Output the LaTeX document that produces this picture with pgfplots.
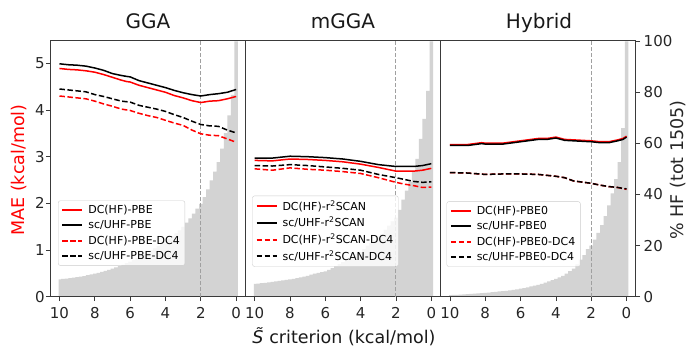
\documentclass[border=0pt]{standalone}
\usepackage{fontspec}
\setmainfont{DejaVu Sans}
\usepackage{pgfplots}
\pgfplotsset{compat=1.18}
\definecolor{histgray}{HTML}{D3D3D3}
\definecolor{spine}{HTML}{3A3A3A}
\definecolor{vline}{HTML}{A0A0A0}

\pgfplotsset{
  common/.style={
    scale only axis, width=195pt, height=256.7pt, anchor=south west,
    xmin=-0.52, xmax=10.52, x dir=reverse,
    axis line style={spine, line width=0.7pt},
    tick style={spine, line width=0.7pt},
    tick align=outside, major tick length=4.5pt,
    xtick={0,2,4,6,8,10},
    ticklabel style={font=\fontsize{15}{18}\selectfont, text=black!85},
    xticklabel style={yshift=-3pt},
    /pgf/number format/assume math mode=true,
  },
  histax/.style={common, ymin=0, ymax=100.5, xtick=\empty},
  mainax/.style={common, ymin=0, ymax=5.5,
    ytick=\empty,
    xtick pos=bottom, ytick pos=left,
    legend style={anchor=south west,
      font=\fontsize{11}{13}\selectfont,
      draw=black!20, rounded corners=2pt, fill=white, fill opacity=0.8, text opacity=1,
      inner xsep=3pt, inner ysep=2.5pt, row sep=1.6pt, column sep=3pt},
    legend cell align=left,
    legend image code/.code={\draw[##1, line width=2pt] (0pt,0pt) -- (20pt,0pt);},
  },
  hbar/.style={fill=histgray, draw=none, const plot mark left},
  rs/.style={red, line width=1.5pt},
  ks/.style={black, line width=1.5pt},
  rd/.style={red, line width=1.5pt, dash pattern=on 5.5pt off 2.5pt},
  kd/.style={black, line width=1.5pt, dash pattern=on 5.5pt off 2.5pt},
}

\begin{document}
\begin{tikzpicture}
\useasboundingbox (0pt,0pt) rectangle (690pt,346pt);

% ---------------- Panel 1: GGA ----------------
\begin{axis}[histax, at={(50.3pt,49.3pt)}, hide axis]
\addplot[hbar] coordinates {(-0.1,100) (0.1,79) (0.3,71) (0.5,64) (0.7,58) (0.9,52.7) (1.1,49) (1.3,45.5) (1.5,42) (1.7,39) (1.9,36.3) (2.1,34.5) (2.3,32.5) (2.5,30.7) (2.7,29) (2.9,27.3) (3.1,26) (3.3,24.8) (3.5,23.7) (3.7,22.7) (3.9,21.8) (4.1,20.8) (4.3,19.8) (4.5,18.9) (4.7,18.1) (4.9,17.3) (5.1,16.6) (5.3,15.9) (5.5,15.1) (5.7,14.4) (5.9,13.7) (6.1,13.1) (6.3,12.5) (6.5,12.0) (6.7,11.5) (6.9,11.0) (7.1,10.5) (7.3,10.1) (7.5,9.7) (7.7,9.3) (7.9,9.0) (8.1,8.7) (8.3,8.4) (8.5,8.1) (8.7,7.9) (8.9,7.7) (9.1,7.5) (9.3,7.3) (9.5,7.1) (9.7,7.0) (9.9,6.8) (10.05,6.8)} \closedcycle;
\end{axis}
\begin{axis}[mainax, at={(50.3pt,49.3pt)}, ytick={0,1,2,3,4,5},
  yticklabel style={xshift=2.5pt},
  legend style={at={(0.04,0.121)}}]
\draw[vline, line width=1pt, dash pattern=on 4pt off 2pt] (axis cs:2,0) -- (axis cs:2,5.5);
\addplot[rs] coordinates {(10,4.89) (9.5,4.87) (9,4.86) (8.5,4.84) (8,4.81) (7.5,4.76) (7,4.70) (6.5,4.64) (6.2,4.61) (6,4.60) (5.5,4.53) (5,4.48) (4.5,4.43) (4,4.38) (3.5,4.31) (3,4.26) (2.5,4.20) (2,4.16) (1.5,4.19) (1,4.20) (0.5,4.24) (0,4.29)};
\addlegendentry{DC(HF)-PBE}
\addplot[ks] coordinates {(10,4.99) (9.5,4.97) (9,4.96) (8.5,4.94) (8,4.90) (7.5,4.85) (7,4.78) (6.5,4.74) (6.2,4.72) (6,4.71) (5.5,4.63) (5,4.58) (4.5,4.53) (4,4.48) (3.5,4.42) (3,4.37) (2.5,4.33) (2,4.30) (1.5,4.33) (1,4.35) (0.5,4.38) (0,4.44)};
\addlegendentry{sc/UHF-PBE}
\addplot[rd] coordinates {(10,4.30) (9.5,4.28) (9,4.26) (8.5,4.24) (8,4.19) (7.5,4.13) (7,4.08) (6.5,4.02) (6,3.99) (5.5,3.93) (5,3.88) (4.5,3.84) (4,3.78) (3.5,3.72) (3,3.67) (2.5,3.57) (2,3.49) (1.5,3.46) (1,3.45) (0.5,3.38) (0,3.31)};
\addlegendentry{DC(HF)-PBE-DC4}
\addplot[kd] coordinates {(10,4.45) (9.5,4.43) (9,4.41) (8.5,4.39) (8,4.33) (7.5,4.29) (7,4.24) (6.5,4.19) (6,4.17) (5.5,4.10) (5,4.06) (4.5,4.02) (4,3.97) (3.5,3.90) (3,3.84) (2.5,3.76) (2,3.69) (1.5,3.66) (1,3.65) (0.5,3.57) (0,3.51)};
\addlegendentry{sc/UHF-PBE-DC4}
\end{axis}

% ---------------- Panel 2: mGGA ----------------
\begin{axis}[histax, at={(245.5pt,49.3pt)}, hide axis]
\addplot[hbar] coordinates {(-0.1,100) (0.1,80.6) (0.3,69.6) (0.5,61.8) (0.7,54) (0.9,48.8) (1.1,45) (1.3,41.5) (1.5,38) (1.7,34) (1.9,31) (2.1,29.5) (2.3,27.8) (2.5,26.2) (2.7,24.5) (2.9,23) (3.1,22) (3.3,21) (3.5,20) (3.7,18.6) (3.9,17.5) (4.1,16.8) (4.3,16.0) (4.5,15.2) (4.7,14.3) (4.9,13.5) (5.1,12.8) (5.3,12.0) (5.5,11.2) (5.7,10.5) (5.9,9.9) (6.1,9.6) (6.3,9.3) (6.5,9.0) (6.7,8.6) (6.9,8.2) (7.1,7.9) (7.3,7.6) (7.5,7.3) (7.7,7.0) (7.9,6.8) (8.1,6.6) (8.3,6.4) (8.5,6.2) (8.7,6.0) (8.9,5.8) (9.1,5.6) (9.3,5.4) (9.5,5.3) (9.7,5.1) (9.9,5.0) (10.05,5.0)} \closedcycle;
\end{axis}
\begin{axis}[mainax, at={(245.5pt,49.3pt)},
  legend style={at={(0.035,0.117)}}]
\draw[vline, line width=1pt, dash pattern=on 4pt off 2pt] (axis cs:2,0) -- (axis cs:2,5.5);
\addplot[rs] coordinates {(10,2.92) (9,2.91) (8,2.95) (7,2.94) (6,2.92) (5,2.89) (4,2.84) (3,2.77) (2,2.69) (1,2.69) (0.5,2.71) (0,2.75)};
\addlegendentry{DC(HF)-r\textsuperscript{2}SCAN}
\addplot[ks] coordinates {(10,2.97) (9,2.97) (8,3.01) (7,3.00) (6,2.98) (5,2.95) (4,2.90) (3,2.83) (2,2.79) (1,2.79) (0.5,2.81) (0,2.85)};
\addlegendentry{sc/UHF-r\textsuperscript{2}SCAN}
\addplot[rd] coordinates {(10,2.74) (9,2.71) (8,2.76) (7,2.73) (6,2.71) (5,2.68) (4,2.64) (3,2.55) (2,2.45) (1.5,2.41) (1,2.38) (0.5,2.34) (0,2.35)};
\addlegendentry{DC(HF)-r\textsuperscript{2}SCAN-DC4}
\addplot[kd] coordinates {(10,2.81) (9,2.80) (8,2.83) (7,2.81) (6,2.78) (5,2.75) (4,2.71) (3,2.62) (2,2.55) (1.5,2.51) (1,2.47) (0.5,2.45) (0,2.46)};
\addlegendentry{sc/UHF-r\textsuperscript{2}SCAN-DC4}
\end{axis}

% ---------------- Panel 3: Hybrid ----------------
\begin{axis}[histax, at={(440.7pt,49.3pt)}, axis x line=none, axis y line*=right,
  ytick={0,20,40,60,80,100}]
\addplot[hbar] coordinates {(-0.1,100) (0.1,66) (0.3,52.7) (0.5,46) (0.7,40.5) (0.9,35.8) (1.1,31.5) (1.3,28) (1.5,25) (1.7,22.3) (1.9,20) (2.1,18.6) (2.3,16.3) (2.5,14.5) (2.7,12.7) (2.9,11) (3.1,10.0) (3.3,9.0) (3.5,8.2) (3.7,7.6) (3.9,7.0) (4.1,6.5) (4.3,6.0) (4.5,5.5) (4.7,5.0) (4.9,4.6) (5.1,4.3) (5.3,4.0) (5.5,3.7) (5.7,3.4) (5.9,3.2) (6.1,2.9) (6.3,2.7) (6.5,2.5) (6.7,2.3) (6.9,2.2) (7.1,2.1) (7.3,1.9) (7.5,1.8) (7.7,1.6) (7.9,1.5) (8.1,1.4) (8.3,1.3) (8.5,1.2) (8.7,1.1) (8.9,1.0) (9.1,0.9) (9.3,0.8) (9.5,0.7) (9.7,0.7) (9.9,0.6) (10.05,0.6)} \closedcycle;
\end{axis}
\begin{axis}[mainax, at={(440.7pt,49.3pt)},
  legend style={at={(0.03,0.117)}}]
\draw[vline, line width=1pt, dash pattern=on 4pt off 2pt] (axis cs:2,0) -- (axis cs:2,5.5);
\addplot[rs] coordinates {(10,3.26) (9,3.26) (8.2,3.30) (8,3.29) (7,3.29) (6,3.34) (5,3.39) (4.5,3.39) (4,3.42) (3.5,3.37) (3,3.36) (2,3.34) (1.5,3.32) (1,3.32) (0.5,3.36) (0.2,3.39) (0,3.44)};
\addlegendentry{DC(HF)-PBE0}
\addplot[ks] coordinates {(10,3.24) (9,3.24) (8.2,3.28) (8,3.27) (7,3.27) (6,3.32) (5,3.37) (4.5,3.37) (4,3.40) (3.5,3.35) (3,3.34) (2,3.32) (1.5,3.30) (1,3.30) (0.5,3.34) (0.2,3.37) (0,3.42)};
\addlegendentry{sc/UHF-PBE0}
\addplot[rd] coordinates {(10,2.66) (9,2.65) (8,2.62) (7,2.63) (6,2.63) (5,2.62) (4,2.58) (3.5,2.55) (3,2.48) (2,2.43) (1.5,2.39) (1,2.36) (0.5,2.34) (0,2.30)};
\addlegendentry{DC(HF)-PBE0-DC4}
\addplot[kd] coordinates {(10,2.66) (9,2.65) (8,2.62) (7,2.63) (6,2.63) (5,2.62) (4,2.58) (3.5,2.55) (3,2.48) (2,2.43) (1.5,2.39) (1,2.36) (0.5,2.34) (0,2.31)};
\addlegendentry{sc/UHF-PBE0-DC4}
\end{axis}

% ---------------- Titles and labels ----------------
\node[anchor=base, font=\fontsize{20}{24}\selectfont, text=black!90] at (148pt,317pt) {GGA};
\node[anchor=base, font=\fontsize{20}{24}\selectfont, text=black!90] at (343pt,317pt) {mGGA};
\node[anchor=base, font=\fontsize{20}{24}\selectfont, text=black!90] at (539pt,317pt) {Hybrid};
\node[rotate=90, font=\fontsize{17.5}{21}\selectfont, text=red] at (19pt,176pt) {MAE (kcal/mol)};
\node[rotate=90, font=\fontsize{17.5}{21}\selectfont, text=black!85] at (678pt,176pt) {\% HF (tot 1505)};
\node[anchor=base, font=\fontsize{17.5}{21}\selectfont, text=black!90] at (344pt,2.7pt) {\textit{S̃} criterion (kcal/mol)};
\end{tikzpicture}
\end{document}
